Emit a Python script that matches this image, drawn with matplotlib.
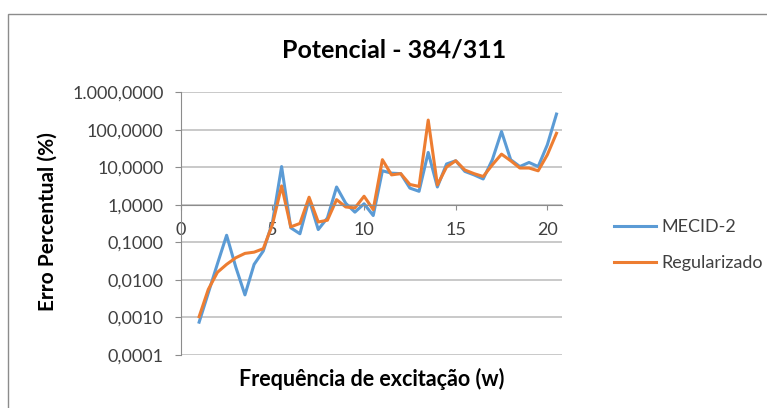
import matplotlib
matplotlib.use('Agg')
import matplotlib.pyplot as plt
import matplotlib.ticker as mticker
from matplotlib.patches import Rectangle

plt.rcParams['font.family'] = ['Lato', 'DejaVu Sans']

# frequencia de excitacao (w)
freq = [1.0, 1.5, 2.0, 2.5, 3.0, 3.5, 4.0, 4.5, 5.0, 5.5,
        6.0, 6.5, 7.0, 7.5, 8.0, 8.5, 9.0, 9.5, 10.0, 10.5,
        11.0, 11.5, 12.0, 12.5, 13.0, 13.5, 14.0, 14.5, 15.0, 15.5,
        16.0, 16.5, 17.0, 17.5, 18.0, 18.5, 19.0, 19.5, 20.0, 20.5]

# erro percentual (%)
mecid2 = [0.00075, 0.0045, 0.027, 0.155, 0.022, 0.004, 0.026, 0.059, 0.34, 10.5,
          0.245, 0.17, 1.4, 0.22, 0.45, 3.0, 1.1, 0.64, 1.07, 0.52,
          8.1, 7.0, 6.8, 2.8, 2.3, 25.0, 3.0, 12.3, 15.0, 7.8,
          6.3, 4.9, 16.0, 90.0, 16.0, 10.5, 13.5, 10.5, 40.0, 263.0]

regularizado = [0.00105, 0.0056, 0.016, 0.026, 0.039, 0.051, 0.055, 0.068, 0.30, 3.2,
                0.26, 0.32, 1.6, 0.35, 0.39, 1.38, 0.88, 0.83, 1.7, 0.75,
                16.0, 6.3, 6.8, 3.5, 3.1, 182.0, 3.4, 10.2, 15.0, 8.5,
                6.8, 5.7, 11.7, 22.5, 15.0, 9.6, 9.6, 8.1, 21.6, 81.0]

yticks = [1e-4, 1e-3, 1e-2, 1e-1, 1, 10, 100, 1000]
xticks = [0, 5, 10, 15, 20]

W, H = 767, 408
fig = plt.figure(figsize=(W/100, H/100), dpi=100)

# moldura do grafico (so esquerda/topo aparecem)
fig.add_artist(Rectangle((8/W, -0.1), 1.2, 1.1 - 14/H, transform=fig.transFigure,
                         fill=False, edgecolor='#8c8c8c', linewidth=1.0))

ax = fig.add_axes([180.8/W, (H-355)/H, (562-180.8)/W, (355-92.3)/H])

ax.plot(freq, mecid2, color='#5B9BD5', linewidth=2.2, label='MECID-2')
ax.plot(freq, regularizado, color='#ED7D31', linewidth=2.2, label='Regularizado')

ax.set_yscale('log')
ax.set_ylim(1e-4, 1e3)
ax.set_xlim(0, 20.8)
ax.set_yticks(yticks)
ax.yaxis.set_minor_locator(mticker.NullLocator())

def br_fmt(v, pos):
    s = f"{v:,.4f}"
    return s.replace(',', 'X').replace('.', ',').replace('X', '.')

ax.yaxis.set_major_formatter(mticker.FuncFormatter(br_fmt))
ax.set_xticks(xticks)

ax.grid(axis='y', color='#c0c0c0', linewidth=1.2)
ax.set_axisbelow(True)

ax.spines['top'].set_visible(False)
ax.spines['right'].set_visible(False)
ax.spines['left'].set_color('#8c8c8c')
ax.spines['bottom'].set_color('#8c8c8c')
ax.spines['bottom'].set_position(('data', 1))

ax.tick_params(axis='y', direction='out', length=4.5, color='#8c8c8c',
               labelsize=13, pad=8, labelcolor='#404040')
ax.tick_params(axis='x', direction='out', length=3.5, color='#8c8c8c',
               labelsize=13, pad=9, labelcolor='#404040')

fig.text(394/W, 1 - 50/H, 'Potencial - 384/311', ha='center', va='center',
         fontsize=18, fontweight='bold', color='black')
fig.text(372/W, 1 - 379/H, 'Frequência de excitação (w)', ha='center', va='center',
         fontsize=15.5, fontweight='bold', color='black')
fig.text(48/W, 1 - 222/H, 'Erro Percentual (%)', ha='center', va='center',
         rotation=90, fontsize=15, fontweight='bold', color='black')

ax.legend(loc='upper left', bbox_to_anchor=(605/W, 1 - 210/H), bbox_transform=fig.transFigure,
          frameon=False, fontsize=13, handlelength=2.3, handletextpad=0.3,
          labelspacing=1.1, borderpad=0, labelcolor='#404040')

fig.savefig('out.png', dpi=100)
